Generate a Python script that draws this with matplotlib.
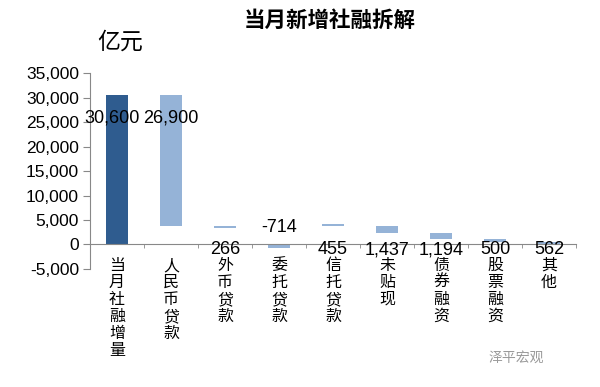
import numpy as np
import matplotlib
matplotlib.use("Agg")
from matplotlib import pyplot as plt

plt.rcParams['font.family'] = ['Liberation Sans', 'Noto Sans CJK SC', 'DejaVu Sans']
plt.rcParams['axes.unicode_minus'] = False

# Data (亿元)
categories = ['当月社融增量', '人民币贷款', '外币贷款', '委托贷款', '信托贷款',
              '未贴现', '债券融资', '股票融资', '其他']
total = 30600
parts = [26900, 266, -714, 455, 1437, 1194, 500, 562]
yticks = [-5000, 0, 5000, 10000, 15000, 20000, 25000, 30000, 35000]

dark = '#2F5C8F'
light = '#95B3D7'

fig = plt.figure(figsize=(6, 3.87), dpi=100)
ax = fig.add_axes([0.15, 0.305, 0.81, 0.506])

x = np.arange(len(categories))
w = 0.4

# total bar
ax.bar(x[0], total, width=w, color=dark)
ax.text(x[0] - 0.1, total - 4700, f'{total:,}', ha='center', va='center', fontsize=13)

# waterfall components
running = total
for i, v in enumerate(parts, start=1):
    level_before = running
    running -= v
    if v < 0:
        # drawn as a negative stacked segment below zero
        ax.bar(x[i], v, width=w, color=light)
        ax.text(x[i], level_before, f'{v:,}', ha='center', va='center', fontsize=13)
    else:
        ax.bar(x[i], v, bottom=running, width=w, color=light)
        if v > 10000:
            ly = level_before - 4700
        else:
            ly = -1100
        ax.text(x[i], ly, f'{v:,}', ha='center', va='center', fontsize=13)

ax.set_xlim(-0.5, len(categories) - 0.5)
ax.set_ylim(-5000, 35000)
ax.set_yticks(yticks)
ax.set_yticklabels([f'{t:,}' for t in yticks], fontsize=12.5)

for s in ['top', 'right']:
    ax.spines[s].set_visible(False)
ax.spines['bottom'].set_position(('data', 0))
ax.spines['left'].set_color('#888888')
ax.spines['bottom'].set_color('#888888')
ax.tick_params(axis='y', direction='out', length=5, color='#888888', pad=3)

ax.set_xticks(x)
ax.set_xticklabels(['\n'.join(c) for c in categories], fontsize=11.5,
                   fontfamily=['Noto Sans CJK SC'], fontweight='light',
                   linespacing=1.0, va='top')
ax.tick_params(axis='x', which='major', length=0, pad=9)
ax.set_xticks(np.arange(len(categories)) + 0.5, minor=True)
ax.tick_params(axis='x', which='minor', direction='out', length=3, color='#888888')

fig.text(0.55, 0.948, '当月新增社融拆解', ha='center', va='center',
         fontsize=15.5, fontweight='bold', fontfamily=['Noto Sans CJK SC'])
fig.text(0.2, 0.89, '亿元', ha='center', va='center', fontsize=16.5,
         fontweight='light', fontfamily=['Noto Sans CJK SC'])
fig.text(0.86, 0.075, '泽平宏观', ha='center', va='center', fontsize=10,
         color='#9A9A9A', fontfamily=['Noto Sans CJK SC'])

fig.savefig('out.png', dpi=100)
